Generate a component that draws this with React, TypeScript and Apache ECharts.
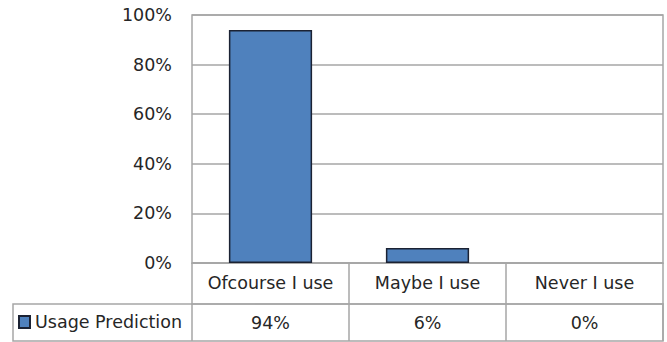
import React, { useEffect, useRef } from "react";
import * as echarts from "echarts";

const categories = ["Ofcourse I use", "Maybe I use", "Never I use"];
const usagePrediction = [94, 6, 0];
const seriesName = "Usage Prediction";
const yTicks = { min: 0, max: 100, interval: 20 };

const FONT = "DejaVu Sans";
const FONT_SIZE = 17.5;
const TEXT = "#262626";
const LINE = "#a6a6a6";

export default function App() {
  const ref = useRef<HTMLDivElement>(null);

  useEffect(() => {
    document.body.style.margin = "0";
    if (!ref.current) return;
    const chart = echarts.init(ref.current, undefined, { renderer: "svg" });
    const label = { fontSize: FONT_SIZE, color: TEXT, fontFamily: FONT };
    chart.setOption({
      animation: false,
      backgroundColor: "#ffffff",
      textStyle: { fontFamily: FONT, color: TEXT },
      grid: {
        left: 192,
        right: 4,
        top: 15,
        bottom: 79,
        show: true,
        borderColor: LINE,
        borderWidth: 1.5,
      },
      legend: {
        data: [seriesName],
        left: 18,
        top: 313,
        padding: 0,
        icon: "rect",
        itemWidth: 11,
        itemHeight: 12,
        textStyle: label,
      },
      graphic: [
        {
          type: "rect",
          shape: { x: 13, y: 304, width: 650, height: 37 },
          style: { fill: "none", stroke: LINE, lineWidth: 1.5 },
          silent: true,
        },
      ],
      xAxis: [
        {
          type: "category",
          data: categories,
          position: "bottom",
          axisLine: { show: true, lineStyle: { color: LINE, width: 1.5 } },
          axisTick: {
            show: true,
            interval: 0,
            alignWithLabel: false,
            length: 41,
            lineStyle: { color: LINE, width: 1.5 },
          },
          axisLabel: {
            ...label,
            interval: 0,
            hideOverlap: false,
            margin: 20,
            verticalAlign: "middle",
          },
          splitLine: { show: false },
        },
        {
          type: "category",
          data: usagePrediction.map((v) => `${v}%`),
          position: "bottom",
          offset: 41,
          axisLine: { show: true, lineStyle: { color: LINE, width: 1.5 } },
          axisTick: {
            show: true,
            interval: 0,
            alignWithLabel: false,
            length: 37,
            lineStyle: { color: LINE, width: 1.5 },
          },
          axisLabel: {
            ...label,
            interval: 0,
            hideOverlap: false,
            margin: 18.5,
            verticalAlign: "middle",
          },
          splitLine: { show: false },
        },
      ],
      yAxis: {
        type: "value",
        min: yTicks.min,
        max: yTicks.max,
        interval: yTicks.interval,
        axisLine: { show: false },
        axisTick: { show: false },
        axisLabel: { ...label, formatter: "{value}%", margin: 20 },
        splitLine: { show: true, lineStyle: { color: LINE, width: 1.5 } },
      },
      series: [
        {
          name: seriesName,
          type: "bar",
          xAxisIndex: 0,
          // a zero-height bar gets no outline
          data: usagePrediction.map((v) =>
            v === 0 ? { value: v, itemStyle: { borderWidth: 0 } } : v
          ),
          barWidth: "53%",
          itemStyle: {
            color: "#4f81bd",
            borderColor: "#1b2233",
            borderWidth: 1.5,
          },
        },
      ],
    });
    return () => chart.dispose();
  }, []);

  return <div ref={ref} style={{ width: 667, height: 342 }} />;
}
